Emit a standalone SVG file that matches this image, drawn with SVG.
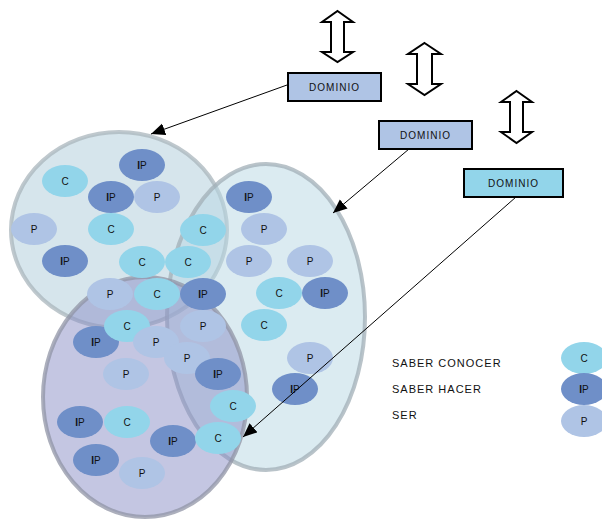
<svg xmlns="http://www.w3.org/2000/svg" width="602" height="519" viewBox="0 0 602 519">
<style>
.t{font-family:"Liberation Sans",Arial,sans-serif;font-size:10px;fill:#111;text-anchor:middle}
.c{fill:#92d5ea}
.ip{fill:#6f8fc8}
.p{fill:#afc4e5}
.box{stroke:#000;stroke-width:2}
.dbl{fill:#fff;stroke:#000;stroke-width:2;stroke-linejoin:miter}
.leg{font-family:"Liberation Sans",Arial,sans-serif;font-size:11px;fill:#111;letter-spacing:1px}
.con{stroke:#000;stroke-width:1;fill:none;marker-end:url(#ah)}
</style>
<defs>
<marker id="ah" markerUnits="userSpaceOnUse" markerWidth="16" markerHeight="14" refX="14" refY="6" orient="auto">
<path d="M0,0 L14,6 L0,12 Z" fill="#000"/>
</marker>
<g id="sC"><ellipse rx="23" ry="16" class="c"/><text class="t" y="4">C</text></g>
<g id="sIP"><ellipse rx="23" ry="16" class="ip"/><text class="t" y="4"><tspan font-weight="bold">I</tspan>P</text></g>
<g id="sP"><ellipse rx="23" ry="16" class="p"/><text class="t" y="4">P</text></g>
</defs>
<rect width="602" height="519" fill="#fff"/>
<g id="regions">
<ellipse id="circle" cx="119" cy="230" rx="108" ry="98" fill="#adcbd9" fill-opacity="0.5" stroke="#a9b5bc" stroke-opacity="0.75" stroke-width="4"/>
<ellipse id="right" cx="266" cy="317" rx="99" ry="153" fill="#b7d7e3" fill-opacity="0.5" stroke="#a2afb7" stroke-opacity="0.75" stroke-width="4"/>
<ellipse id="purple" cx="145" cy="397" rx="102" ry="120" fill="#898dc5" fill-opacity="0.5" stroke="#9094a6" stroke-opacity="0.75" stroke-width="4"/>
</g>
<g id="items">
<use href="#sIP" x="142" y="165"/>
<use href="#sC" x="65" y="181"/>
<use href="#sIP" x="111" y="197"/>
<use href="#sP" x="157" y="197"/>
<use href="#sIP" x="249" y="197"/>
<use href="#sP" x="34" y="229"/>
<use href="#sC" x="111" y="229"/>
<use href="#sC" x="203" y="230"/>
<use href="#sP" x="264" y="229"/>
<use href="#sIP" x="65" y="261"/>
<use href="#sC" x="142" y="262"/>
<use href="#sC" x="188" y="262"/>
<use href="#sP" x="249" y="261"/>
<use href="#sP" x="310" y="261"/>
<use href="#sP" x="110" y="294"/>
<use href="#sC" x="157" y="294"/>
<use href="#sIP" x="203" y="294"/>
<use href="#sC" x="279" y="293"/>
<use href="#sIP" x="325" y="293"/>
<use href="#sP" x="203" y="326"/>
<use href="#sC" x="264" y="325"/>
<use href="#sIP" x="96" y="342"/>
<use href="#sC" x="127" y="326"/>
<use href="#sP" x="156" y="342"/>
<use href="#sP" x="187" y="358"/>
<use href="#sP" x="310" y="358"/>
<use href="#sIP" x="218" y="374"/>
<use href="#sP" x="126" y="374"/>
<use href="#sIP" x="295" y="389"/>
<use href="#sC" x="233" y="406"/>
<use href="#sIP" x="80" y="422"/>
<use href="#sC" x="127" y="422"/>
<use href="#sIP" x="173" y="441"/>
<use href="#sC" x="218" y="438"/>
<use href="#sIP" x="96" y="460"/>
<use href="#sP" x="142" y="473"/>
</g>
<g id="dominio1">
<polygon class="dbl" points="337.5,11 353,22 344,22 344,52 353,52 337.5,62 322,52 331,52 331,22 322,22"/>
<rect class="box" x="288" y="73" width="93" height="28" fill="#afc4e5"/>
<text class="t" x="334.5" y="91" letter-spacing="1">DOMINIO</text>
</g>
<g id="dominio2">
<polygon class="dbl" points="424.5,43 441,54 432,54 432,84 441,84 424.5,95 408,84 417,84 417,54 408,54"/>
<rect class="box" x="379" y="121" width="93" height="28" fill="#afc4e5"/>
<text class="t" x="425.5" y="139" letter-spacing="1">DOMINIO</text>
</g>
<g id="dominio3">
<polygon class="dbl" points="516.5,91 532,102 523,102 523,132 532,132 516.5,143 501,132 510,132 510,102 501,102"/>
<rect class="box" x="464" y="169" width="99" height="28" fill="#92d5ea"/>
<text class="t" x="513.5" y="187" letter-spacing="1">DOMINIO</text>
</g>
<g id="connectors">
<line class="con" x1="287" y1="85" x2="151" y2="134"/>
<line class="con" x1="409" y1="149" x2="333" y2="213"/>
<line class="con" x1="516" y1="197" x2="243" y2="437"/>
</g>
<g id="legend">
<text class="leg" x="392" y="367">SABER CONOCER</text>
<text class="leg" x="392" y="393">SABER HACER</text>
<text class="leg" x="392" y="419">SER</text>
<use href="#sC" x="584" y="358"/>
<use href="#sIP" x="584" y="389"/>
<use href="#sP" x="584" y="421"/>
</g>
</svg>
